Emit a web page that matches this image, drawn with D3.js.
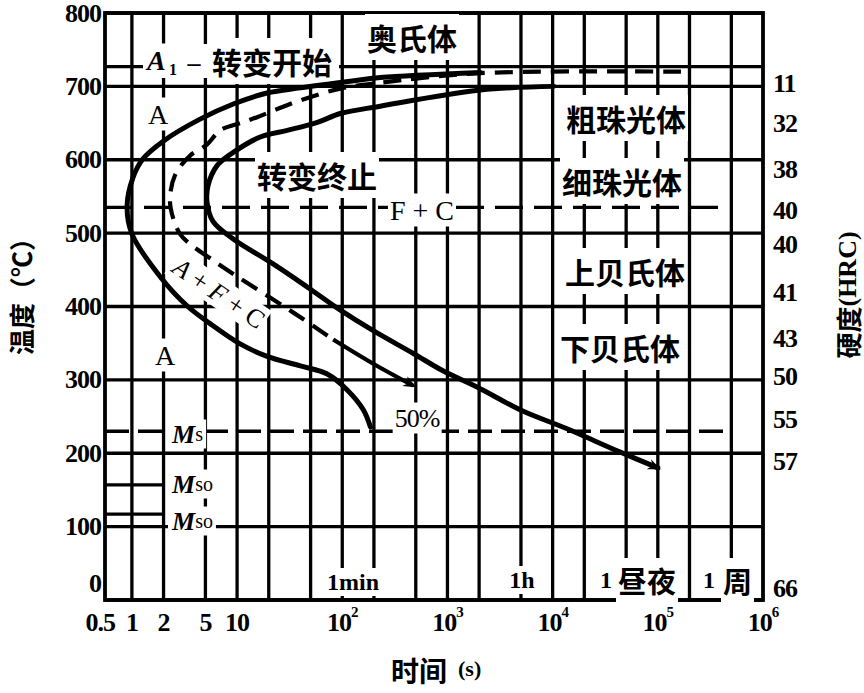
<!DOCTYPE html>
<html><head><meta charset="utf-8">
<script src="https://cdn.jsdelivr.net/npm/d3@7"></script>
<style>body{margin:0;background:#fff}</style>
</head><body><svg id="c" width="864" height="693"></svg>
<script>
// ---------- data ----------
const tempTicks = [0, 100, 200, 300, 400, 500, 600, 700, 800];
const timeTicks = [0.5, 1, 2, 5, 10, 100, 1000, 10000, 100000, 1000000];
const timeTickBase = ["0.5", "1", "2", "5", "10", "10", "10", "10", "10", "10"];
const timeTickExp = ["", "", "", "", "", "2", "3", "4", "5", "6"];
const timeGrid = [1, 2, 5, 10, 20, 50, 100, 200, 500, 1000, 2000, 5000, 10000, 20000, 50000, 100000, 200000, 500000];
const hardnessTemps = [704, 649, 587, 531, 485, 419, 356, 304, 246, 189, 16];
const hardnessLabels = ["11", "32", "38", "40", "40", "41", "43", "50", "55", "57", "66"];
const A1Temp = [727];
const noseTemp = [535];
const msTemp = [230];
const msoTemps = [157, 117];
const timeDomain = [0.555, 1000000];
const tempDomain = [0, 800];

// [time (s), temperature (°C)]
const startCurve = [[2060,719],[230,712],[119,707],[40,698],[19.3,691],[9.2,676],[4.4,655],[1.97,625],[1.27,601],[1.02,575],[0.9,537],[1.0,499],[1.85,441],[3.34,401],[5.5,377],[10.7,349],[19.3,332],[40,319],[72,308],[112,286],[159,259],[185,236]];
const halfCurveDashed = [[166000,720],[2060,718],[230,705],[96,697],[40,681],[24,669],[15.5,658],[11.4,651],[6.9,640],[5.2,621],[3.6,606],[2.57,579],[2.3,545],[2.46,521],[2.86,499],[3.57,485],[5.5,466],[10,441],[34,392],[82,355]];
const halfCurveSolid = [[82,355],[197,322],[474,292]];
const finishCurve = [[10200,700],[2060,695],[230,673],[96,663],[58,651],[30,640],[16.6,631],[9.2,610],[6.45,592],[5.3,565],[5.18,542],[5.9,516],[9.2,492],[22,458],[46,427],[96,395],[197,367],[474,336],[916,312],[1930,290],[4950,259],[13900,233],[41600,203],[100000,180]];

// ---------- scales ----------
const svg = d3.select("#c");
svg.append("rect").attr("width", 864).attr("height", 693).attr("fill", "#fff");
const x = d3.scaleLog().domain(timeDomain).range([105, 763]);
const y = d3.scaleLinear().domain(tempDomain).range([600, 13]);

const gGrid = svg.append("g");
const gBg = svg.append("g");
const gCurve = svg.append("g");
const gText = svg.append("g");

const SERIF = "'Liberation Serif','DejaVu Serif',serif";
const CJK = "'Noto Sans CJK SC','Noto Sans CJK JP',sans-serif";
const GW = 3.3;

// grid
gGrid.selectAll(".h").data(tempTicks).join("line")
  .attr("x1", x(timeDomain[0])).attr("x2", x(timeDomain[1]))
  .attr("y1", d => y(d)).attr("y2", d => y(d))
  .attr("stroke", "#000").attr("stroke-width", GW);
gGrid.selectAll(".v").data(timeGrid).join("line")
  .attr("x1", d => x(d)).attr("x2", d => x(d))
  .attr("y1", y(tempDomain[1])).attr("y2", y(tempDomain[0]))
  .attr("stroke", "#000").attr("stroke-width", GW);
gGrid.append("rect")
  .attr("x", x(timeDomain[0])).attr("y", y(tempDomain[1]))
  .attr("width", x(timeDomain[1]) - x(timeDomain[0]))
  .attr("height", y(tempDomain[0]) - y(tempDomain[1]))
  .attr("fill", "none").attr("stroke", "#000").attr("stroke-width", 3.8);

// A1 line
gGrid.selectAll(".a1").data(A1Temp).join("line")
  .attr("x1", x(timeDomain[0])).attr("x2", x(timeDomain[1]))
  .attr("y1", d => y(d)).attr("y2", d => y(d))
  .attr("stroke", "#000").attr("stroke-width", GW);
// nose-temperature dashed line
gGrid.selectAll(".nose").data(noseTemp).join("line")
  .attr("x1", x(timeDomain[0])).attr("x2", x(400000))
  .attr("y1", d => y(d)).attr("y2", d => y(d))
  .attr("stroke", "#000").attr("stroke-width", GW).attr("stroke-dasharray", "28,11");
// Ms dashed line
gGrid.selectAll(".ms").data(msTemp).join("line")
  .attr("x1", x(timeDomain[0])).attr("x2", x(420000))
  .attr("y1", d => y(d)).attr("y2", d => y(d))
  .attr("stroke", "#000").attr("stroke-width", GW).attr("stroke-dasharray", "24,9");
// Mso short lines
gGrid.selectAll(".mso").data(msoTemps).join("line")
  .attr("x1", x(timeDomain[0])).attr("x2", x(2))
  .attr("y1", d => y(d)).attr("y2", d => y(d))
  .attr("stroke", "#000").attr("stroke-width", GW);

// ---------- curves ----------
const defs = svg.append("defs");
defs.append("marker").attr("id", "arr").attr("viewBox", "0 -6 12 12")
  .attr("refX", 9).attr("refY", 0).attr("markerWidth", 13).attr("markerHeight", 13)
  .attr("markerUnits", "userSpaceOnUse").attr("orient", "auto")
  .append("path").attr("d", "M0,-5L12,0L0,5L4,0Z").attr("fill", "#000");

const line = d3.line().x(d => x(d[0])).y(d => y(d[1])).curve(d3.curveCatmullRom.alpha(0.5));
gCurve.append("path").datum(startCurve).attr("d", line)
  .attr("fill", "none").attr("stroke", "#000").attr("stroke-width", 5).attr("stroke-linecap", "round");
gCurve.append("path").datum(halfCurveDashed).attr("d", line)
  .attr("fill", "none").attr("stroke", "#000").attr("stroke-width", 4.2).attr("stroke-dasharray", "18,10");
gCurve.append("path").datum(halfCurveSolid).attr("d", line)
  .attr("fill", "none").attr("stroke", "#000").attr("stroke-width", 4.2).attr("marker-end", "url(#arr)");
gCurve.append("path").datum(finishCurve).attr("d", line)
  .attr("fill", "none").attr("stroke", "#000").attr("stroke-width", 5).attr("stroke-linecap", "round")
  .attr("marker-end", "url(#arr)");

// ---------- text helpers ----------
function label(px, py, txt, opt = {}) {
  const t = gText.append("text").attr("x", px).attr("y", py)
    .attr("font-family", opt.font || SERIF)
    .attr("font-size", opt.size || 26)
    .attr("font-weight", opt.weight || "bold")
    .attr("font-style", opt.style || "normal")
    .attr("text-anchor", opt.anchor || "middle")
    .attr("dominant-baseline", "central")
    .attr("fill", "#000")
    .text(txt);
  if (opt.ls) t.attr("letter-spacing", opt.ls);
  if (opt.bg !== false) {
    const b = t.node().getBBox();
    gBg.append("rect").attr("x", b.x - 2).attr("y", b.y - 1)
      .attr("width", b.width + 4).attr("height", b.height + 2).attr("fill", "#fff");
  }
  return t;
}

// left axis tick labels
tempTicks.forEach(v => {
  label(101, y(v) - (v === 0 ? 17 : 0), String(v), { anchor: "end", size: 26, ls: -1, bg: false });
});
// bottom tick labels
timeTicks.forEach((v, i) => {
  const t = gText.append("text").attr("x", x(v)).attr("y", 622)
    .attr("font-family", SERIF).attr("font-size", 26).attr("font-weight", "bold")
    .attr("text-anchor", "middle").attr("dominant-baseline", "central").attr("letter-spacing", -1);
  t.append("tspan").text(timeTickBase[i]);
  if (timeTickExp[i]) t.append("tspan").attr("font-size", 15).attr("dy", -10).text(timeTickExp[i]);
});
// right hardness labels
hardnessTemps.forEach((v, i) => {
  label(773, y(v), hardnessLabels[i], { anchor: "start", size: 26, ls: -1, bg: false });
});

// axis titles
gText.append("text").attr("transform", "translate(20,290) rotate(-90)")
  .attr("font-family", CJK).attr("font-size", 26).attr("font-weight", "bold")
  .attr("text-anchor", "middle").attr("dominant-baseline", "central").text("温度（℃）");
const rt = gText.append("text").attr("transform", "translate(847,295) rotate(-90)")
  .attr("font-family", CJK).attr("font-size", 26).attr("font-weight", "bold")
  .attr("text-anchor", "middle").attr("dominant-baseline", "central");
rt.append("tspan").text("硬度");
rt.append("tspan").attr("font-family", SERIF).text("(HRC)");
label(391, 670, "时间", { font: CJK, size: 28, anchor: "start", bg: false });
label(458, 668, "(s)", { size: 22, anchor: "start", bg: false });

// in-plot labels
label(412, 37, "奥氏体", { font: CJK, size: 30 });
// A1 - 转变开始
gBg.append("rect").attr("x", 143).attr("y", 44).attr("width", 196).attr("height", 34).attr("fill", "#fff");
label(147, 60, "A", { size: 28, style: "italic", anchor: "start" });
label(169, 69, "1", { size: 16, anchor: "start" });
label(194, 62, "–", { size: 26 });
label(212, 61, "转变开始", { font: CJK, size: 30, anchor: "start" });
label(158, 114, "A", { size: 28, weight: "normal" });
label(317, 175, "转变终止", { font: CJK, size: 30 });
label(422, 210, "F + C", { size: 28, weight: "normal" });
label(626, 118, "粗珠光体", { font: CJK, size: 30 });
label(622, 181, "细珠光体", { font: CJK, size: 30 });
label(625, 271, "上贝氏体", { font: CJK, size: 30 });
label(620, 347, "下贝氏体", { font: CJK, size: 30 });
label(165, 355, "A", { size: 28, weight: "normal" });

// rotated A+F+C
const afc = gText.append("text").attr("transform", "translate(219,293) rotate(34)")
  .attr("font-family", SERIF).attr("font-size", 26)
  .attr("text-anchor", "middle").attr("dominant-baseline", "central");
afc.append("tspan").attr("font-style", "italic").text("A");
afc.append("tspan").text(" + ");
afc.append("tspan").attr("font-style", "italic").text("F");
afc.append("tspan").text(" + ");
afc.append("tspan").text("C");
{
  const b = afc.node().getBBox();
  gBg.append("rect").attr("x", b.x - 2).attr("y", b.y).attr("width", b.width + 4).attr("height", b.height)
    .attr("transform", "translate(219,293) rotate(34)").attr("fill", "#fff");
}

// Ms / Mso
function mLabel(px, py, sub) {
  const t = gText.append("text").attr("x", px).attr("y", py)
    .attr("font-family", SERIF).attr("font-size", 26).attr("font-weight", "bold")
    .attr("dominant-baseline", "central");
  t.append("tspan").attr("font-style", "italic").text("M");
  t.append("tspan").attr("font-size", 20).attr("font-weight", "normal").text(sub);
  const b = t.node().getBBox();
  gBg.append("rect").attr("x", b.x - 3).attr("y", b.y).attr("width", b.width + 6).attr("height", b.height).attr("fill", "#fff");
}
mLabel(172, 434, "s");
mLabel(172, 484, "so");
mLabel(172, 521, "so");

label(417, 418, "50%", { size: 26, weight: "normal", ls: -1 });
label(353, 582, "1min", { size: 24 });
label(522, 580, "1h", { size: 24 });
label(600, 580, "1", { size: 24, anchor: "start" });
label(618, 580, "昼夜", { font: CJK, size: 29, anchor: "start" });
label(703, 580, "1", { size: 24, anchor: "start" });
label(723, 580, "周", { font: CJK, size: 29, anchor: "start" });
</script>
</body></html>
